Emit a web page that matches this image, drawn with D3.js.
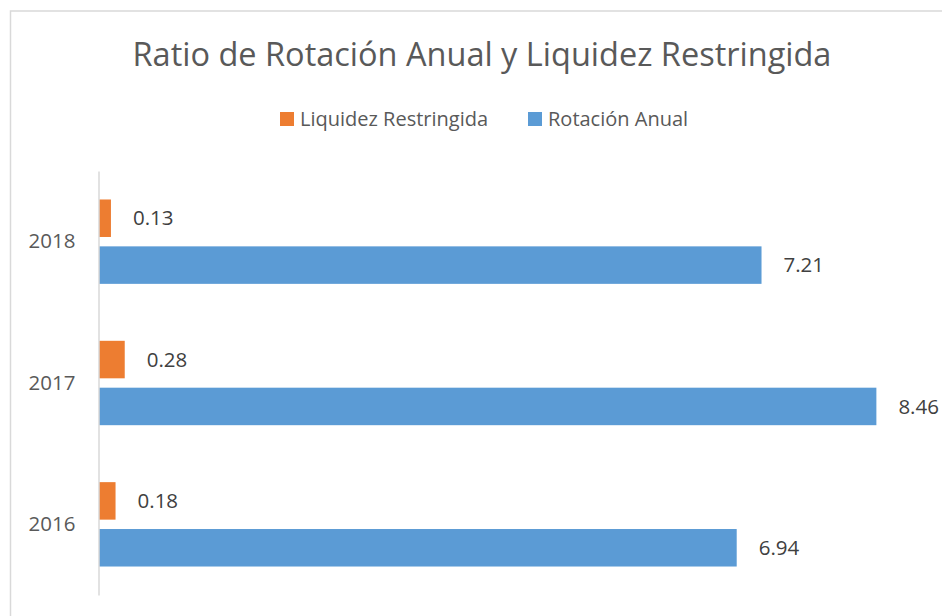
<!DOCTYPE html>
<html>
<head>
<meta charset="utf-8">
<script src="https://cdn.jsdelivr.net/npm/d3@7"></script>
<style>
  body { margin: 0; background: #fff; }
  text { font-family: "Open Sans", sans-serif; }
</style>
</head>
<body>
<div id="chart"></div>
<script>
var years = ["2018", "2017", "2016"];
var seriesNames = ["Liquidez Restringida", "Rotación Anual"];
var liquidez = [0.13, 0.28, 0.18];
var rotacion = [7.21, 8.46, 6.94];
var colors = ["#ED7D31", "#5B9BD5"];

var width = 942, height = 616;
var svg = d3.select("#chart").append("svg")
            .attr("width", width)
            .attr("height", height);

// chart frame (right and bottom edges fall outside the picture)
svg.append("rect")
   .attr("x", 10.5).attr("y", 11)
   .attr("width", 1000).attr("height", 700)
   .attr("fill", "none")
   .attr("stroke", "#d9d9d9")
   .attr("stroke-width", 1.5);

svg.append("text")
   .attr("x", 482).attr("y", 66)
   .attr("text-anchor", "middle")
   .style("font-size", "32.5px")
   .style("fill", "#595959")
   .text("Ratio de Rotación Anual y Liquidez Restringida");

var data = years.map(function(y, i) {
  return { year: y, values: [liquidez[i], rotacion[i]] };
});

var x = d3.scaleLinear().domain([0, 9]).range([99, 926]);
var y0 = d3.scaleBand().domain(years).range([171, 595])
           .paddingInner(0.403).paddingOuter(0.2015);
var y1 = d3.scaleBand().domain([0, 1]).range([0, y0.bandwidth()])
           .paddingInner(0.2).paddingOuter(0);

// legend
var legendX = [280, 528];
var legend = svg.selectAll(".legend")
  .data(seriesNames)
  .enter().append("g")
  .attr("transform", function(d, i) { return "translate(" + legendX[i] + ",112)"; });
legend.append("rect")
  .attr("width", 14).attr("height", 14)
  .attr("fill", function(d, i) { return colors[i]; });
legend.append("text")
  .attr("x", 20).attr("y", 14)
  .style("font-size", "20px")
  .style("fill", "#595959")
  .text(function(d) { return d; });

var groups = svg.selectAll(".grp")
  .data(data)
  .enter().append("g")
  .attr("transform", function(d) { return "translate(0," + y0(d.year) + ")"; });

groups.selectAll("rect")
  .data(function(d) { return d.values; })
  .enter().append("rect")
  .attr("x", x(0))
  .attr("y", function(d, i) { return y1(i); })
  .attr("width", function(d) { return x(d) - x(0); })
  .attr("height", y1.bandwidth())
  .attr("fill", function(d, i) { return colors[i]; });

groups.selectAll(".lbl")
  .data(function(d) { return d.values; })
  .enter().append("text")
  .attr("x", function(d) { return x(d) + 22; })
  .attr("y", function(d, i) { return y1(i) + y1.bandwidth() / 2; })
  .attr("dy", "0.35em")
  .style("font-size", "20.5px")
  .style("fill", "#404040")
  .text(function(d) { return d.toFixed(2); });

// category axis
var yAxis = svg.append("g")
  .attr("transform", "translate(98.5,0)")
  .call(d3.axisLeft(y0).tickSize(0).tickPadding(23));
yAxis.select(".domain")
  .attr("stroke", "#d9d9d9")
  .attr("stroke-width", 1.5);
yAxis.selectAll("text")
  .style("font-family", "'Open Sans', sans-serif")
  .style("font-size", "20.5px")
  .style("fill", "#595959");
</script>
</body>
</html>
